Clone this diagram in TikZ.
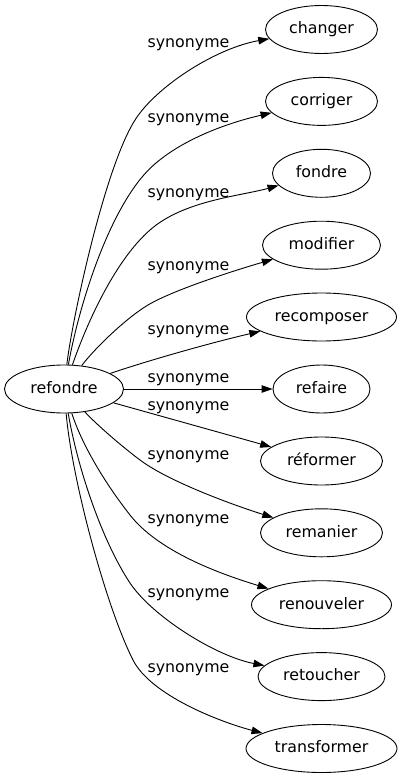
\documentclass[tikz,border=0pt]{standalone}
\usepackage{fontspec}
\setmainfont{DejaVu Sans}
\usetikzlibrary{arrows.meta,shapes.geometric}
\begin{document}
\begin{tikzpicture}[x=1pt,y=-1pt,
  word/.style={ellipse,draw,line width=0.9pt,inner sep=0pt,minimum height=48pt,
    text height=12pt,text depth=3.4pt,font=\fontsize{15.8}{19}\selectfont},
  rel/.style={font=\fontsize{15.8}{19}\selectfont,inner sep=0pt,anchor=base},
  link/.style={draw,line width=0.9pt,-{Triangle[length=11pt,width=7.5pt]}}]
\useasboundingbox (0,0) rectangle (402,779);
% nodes
\node[word,minimum width=119pt] (refondre) at (64,389) {refondre};
\node[word,minimum width=112pt] (changer) at (321.5,29.5) {changer};
\node[word,minimum width=112pt] (corriger) at (321.5,101.4) {corriger};
\node[word,minimum width=98pt] (fondre) at (321.5,173.3) {fondre};
\node[word,minimum width=118pt] (modifier) at (321.5,245.2) {modifier};
\node[word,minimum width=150pt] (recomposer) at (321.5,317) {recomposer};
\node[word,minimum width=97pt] (refaire) at (321.5,389) {refaire};
\node[word,minimum width=122pt] (reformer) at (321.5,461) {réformer};
\node[word,minimum width=122pt] (remanier) at (321.5,532.8) {remanier};
\node[word,minimum width=140pt] (renouveler) at (321.5,604.7) {renouveler};
\node[word,minimum width=127pt] (retoucher) at (321.5,676.6) {retoucher};
\node[word,minimum width=151pt] (transformer) at (321.5,748.5) {transformer};
% labels
\node[rel] (l1) at (188.5,47) {synonyme};
\node[rel] (l2) at (188.5,122.5) {synonyme};
\node[rel] (l3) at (188.5,197) {synonyme};
\node[rel] (l4) at (188.5,270.5) {synonyme};
\node[rel] (l5) at (188.5,334.5) {synonyme};
\node[rel] (l6) at (188.5,382.5) {synonyme};
\node[rel] (l7) at (188.5,410.5) {synonyme};
\node[rel] (l8) at (188.5,459.5) {synonyme};
\node[rel] (l9) at (188.5,523.5) {synonyme};
\node[rel] (l10) at (188.5,597.5) {synonyme};
\node[rel] (l11) at (188.5,672.5) {synonyme};
% edges
\draw[link] (refondre) .. controls (72,320) and (105.6,162) .. (137,117) .. controls (160,84) and (217,48) .. (changer);
\draw[link] (refondre) .. controls (80,300) and (111.4,204.4) .. (151.5,167) .. controls (180.7,139.8) and (227,123) .. (corriger);
\draw[link] (refondre) .. controls (88,320) and (116,259.7) .. (150,230) .. controls (183.75,200.3) and (241,196) .. (fondre);
\draw[link] (refondre) .. controls (95,348) and (126.5,317.8) .. (148,305) .. controls (173.8,289.7) and (236,270) .. (modifier);
\draw[link] (refondre) .. controls (150,360) and (210,343) .. (recomposer);
\draw[link] (refondre) -- (refaire);
\draw[link] (refondre) -- (reformer);
\draw[link] (refondre) .. controls (95,423) and (120,445) .. (140,460) .. controls (168,481) and (230,504) .. (remanier);
\draw[link] (refondre) .. controls (82,445) and (105.2,483.4) .. (130,515) .. controls (157.9,550.6) and (216.6,572.9) .. (renouveler);
\draw[link] (refondre) .. controls (78,470) and (102.5,541.5) .. (130,583) .. controls (152,616) and (215,656) .. (retoucher);
\draw[link] (refondre) .. controls (72,480) and (106,606.6) .. (133,660) .. controls (151,695.6) and (220.8,722.2) .. (transformer);
\end{tikzpicture}
\end{document}
